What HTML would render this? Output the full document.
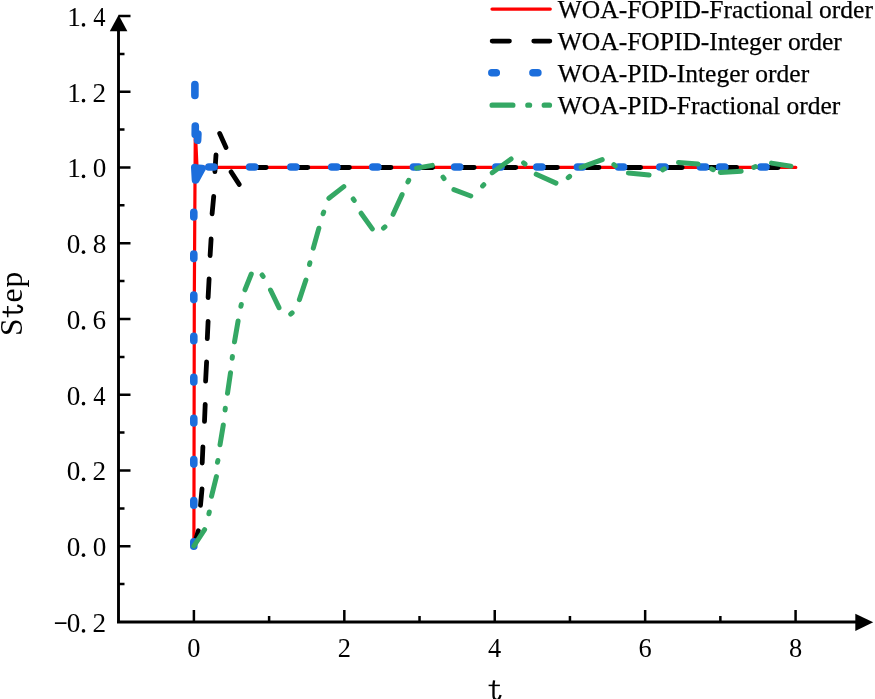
<!DOCTYPE html>
<html><head><meta charset="utf-8"><style>
html,body{margin:0;padding:0;background:#fff;overflow:hidden}
svg{display:block;will-change:transform}
text{font-family:"Liberation Serif",serif}
</style></head><body>
<svg width="875" height="699" viewBox="0 0 875 699">
<rect width="875" height="699" fill="#fff"/>
<g fill="none" stroke-linecap="round" stroke-linejoin="round">
<path d="M193.9 546.25L194.3 300L195.3 130L197 167.4L795.8 167.4" stroke="#ff0000" stroke-width="3.2"/>
<path d="M193.9 546.0L198.3 530.8M202.0 489.0L200.5 505.3M202.9 446.8L202.2 463.0M205.2 404.4L204.5 421.4M206.6 361.9L205.6 381.1M208.1 321.4L207.3 338.7M209.1 278.9L208.1 297.5M211.1 239.0L210.1 255.5M213.7 196.5L212.1 213.8M216.0 154.8L214.9 171.5M219.7 133.5L226.0 147.5M231.1 171.9L239.2 184.4M248.9 167.5L266.2 167.5M290.5 167.5L307.8 167.5M332.1 167.5L349.4 167.5M373.7 167.5L391.0 167.5M415.3 167.5L432.6 167.5M456.9 167.5L474.2 167.5M498.5 167.5L515.8 167.5M540.1 167.5L557.4 167.5M581.7 167.5L599.0 167.5M623.3 167.5L640.6 167.5M664.9 167.5L682.2 167.5M700.5 167.5L736.6 167.5M761.5 167.5L778.1 167.5" stroke="#000" stroke-width="4.8"/>
<path d="M193.8 546.3L193.8 541.7M193.8 505.2L193.8 500.6M193.8 464.1L193.8 459.5M193.8 423.0L193.8 418.4M193.8 381.9L193.8 377.3M193.8 340.8L193.8 336.2M193.8 299.6L193.8 295.0M193.8 258.6L193.8 254.0M193.8 216.9L193.8 212.3M194.9 95.5L194.9 84.5M195.3 126.0L195.2 134.5M197.9 134.0L197.6 140.3M194.8 167.5L195.5 180.0M195.8 179.8L201.5 169.5M195.0 168.0L202.0 168.5M208.8 167.0L214.0 167.0M249.6 167.0L254.8 167.0M290.8 167.0L296.0 167.0M331.7 167.0L336.9 167.0M372.7 167.0L377.9 167.0M413.4 167.0L418.6 167.0M454.6 167.0L459.8 167.0M495.8 167.0L501.0 167.0M536.8 167.0L542.0 167.0M577.4 167.0L582.6 167.0M618.4 167.0L623.6 167.0M659.8 167.0L665.0 167.0M700.4 167.0L705.6 167.0M719.6 167.0L724.8 167.0M760.8 167.0L766.0 167.0" stroke="#1c6edc" stroke-width="7.6"/>
<path d="M193.9 546.0L204.6 529.6M208.9 513.8L209.3 512.0M211.5 496.3L216.4 476.6M217.5 462.3L217.9 460.5M220.0 444.8L223.3 425.0M225.1 410.0L225.3 408.2M227.5 393.3L230.5 372.8M232.2 358.3L232.4 356.5M234.5 341.9L238.1 321.0M240.9 306.3L241.3 304.5M245.0 289.8L251.3 274.0M262.1 275.0L263.1 276.4M270.5 290.0L279.0 307.7M290.7 314.1L292.1 312.9M299.4 299.6L305.9 280.0M309.5 264.5L309.9 262.7M313.3 248.2L318.9 228.2M323.1 213.8L323.7 212.0M328.9 198.3L343.8 186.6M353.2 199.0L354.2 200.4M361.1 213.2L372.3 228.9M383.5 228.1L384.9 226.9M393.1 214.3L402.1 194.6M407.9 181.9L408.7 180.3M416.5 168.1L432.3 165.4M443.0 177.1L444.0 178.5M453.9 189.7L470.8 196.0M482.6 185.9L483.8 184.7M492.2 172.7L511.1 158.9M523.6 162.8L525.0 164.0M536.2 174.2L556.0 183.1M568.2 177.7L569.6 176.5M581.1 167.4L602.2 159.6M613.9 164.6L615.3 165.8M628.4 173.0L649.1 175.0M662.6 169.8L664.2 168.8M678.5 162.4L698.0 164.0M711.7 168.9L713.3 169.7M720.3 172.4L741.2 171.2M753.8 167.3L755.4 166.7M771.5 163.1L790.9 166.3" stroke="#34a864" stroke-width="5"/>
</g>
<g fill="none" stroke="#000">
<path d="M118.5 622.4V29" stroke-width="2.9"/>
<path d="M117 622H858" stroke-width="2.9"/>
<path d="M118.5 584.12H124.5M118.5 546.25H130.5M118.5 508.38H124.5M118.5 470.50H130.5M118.5 432.62H124.5M118.5 394.75H130.5M118.5 356.88H124.5M118.5 319.00H130.5M118.5 281.12H124.5M118.5 243.25H130.5M118.5 205.37H124.5M118.5 167.50H130.5M118.5 129.62H124.5M118.5 91.75H130.5M118.5 53.88H124.5M118.5 16.00H130.5" stroke-width="2.5"/>
<path d="M193.90 622H193.90V610M269.11 622H269.11V616M344.32 622H344.32V610M419.53 622H419.53V616M494.74 622H494.74V610M569.95 622H569.95V616M645.16 622H645.16V610M720.37 622H720.37V616M795.58 622H795.58V610" stroke-width="2.5"/>
</g>
<path d="M118.6 14.9L127.4 31.2L109.8 31.2Z" fill="#000"/>
<path d="M873.2 622.3L855.3 613.7L855.3 630.9Z" fill="#000"/>
<g font-size="26.4" fill="#000">
<text transform="translate(66.77 631.90) scale(1.03 1)">0</text><text transform="translate(92.46 631.90) scale(1.03 1)">2</text><circle cx="83.5" cy="630.90" r="1.8"/><rect x="54.9" y="622.30" width="11.6" height="1.7"/><text transform="translate(66.77 556.15) scale(1.03 1)">0</text><text transform="translate(92.67 556.15) scale(1.03 1)">0</text><circle cx="83.5" cy="555.15" r="1.8"/><text transform="translate(66.77 480.40) scale(1.03 1)">0</text><text transform="translate(92.46 480.40) scale(1.03 1)">2</text><circle cx="83.5" cy="479.40" r="1.8"/><text transform="translate(66.77 404.65) scale(1.03 1)">0</text><text transform="translate(93.23 404.65) scale(0.93 1)">4</text><circle cx="83.5" cy="403.65" r="1.8"/><text transform="translate(66.77 328.90) scale(1.03 1)">0</text><text transform="translate(92.57 328.90) scale(1.03 1)">6</text><circle cx="83.5" cy="327.90" r="1.8"/><text transform="translate(66.77 253.15) scale(1.03 1)">0</text><text transform="translate(92.67 253.15) scale(1.03 1)">8</text><circle cx="83.5" cy="252.15" r="1.8"/><text transform="translate(67.23 177.40) scale(1.03 1)">1</text><text transform="translate(92.67 177.40) scale(1.03 1)">0</text><circle cx="83.5" cy="176.40" r="1.8"/><text transform="translate(67.23 101.65) scale(1.03 1)">1</text><text transform="translate(92.46 101.65) scale(1.03 1)">2</text><circle cx="83.5" cy="100.65" r="1.8"/><text transform="translate(67.23 25.90) scale(1.03 1)">1</text><text transform="translate(93.23 25.90) scale(0.93 1)">4</text><circle cx="83.5" cy="24.90" r="1.8"/>
<text x="193.9" y="656.6" text-anchor="middle">0</text><text x="344.3" y="656.6" text-anchor="middle">2</text><text x="494.7" y="656.6" text-anchor="middle">4</text><text x="645.2" y="656.6" text-anchor="middle">6</text><text x="795.6" y="656.6" text-anchor="middle">8</text>
</g>
<g font-size="31.5" transform="translate(21.5 335.98) rotate(-90)">
<text x="0" y="0">S</text>
<text x="33.47" y="0">e</text>
<text x="48.5" y="0">p</text>
</g>
<g fill="none" stroke="#000">
<g transform="translate(493.6 680)"><path d="M0.5 0.3C0.2 2.5-0.1 3.5-0.1 6L-0.1 15.5C-0.1 19.5 2.5 20.3 4.5 19.5C5.8 18.9 6.5 16.7 7 15" stroke-width="2.3"/><path d="M-5 5.4H6.3" stroke-width="1.5"/></g>
<g transform="translate(2.3 312.3) rotate(-90)"><path d="M0.5 0.3C0.2 2.5-0.1 3.5-0.1 6L-0.1 15.5C-0.1 19.5 2.5 20.3 4.5 19.5C5.8 18.9 6.5 16.7 7 15" stroke-width="2.3"/><path d="M-5 5.4H6.3" stroke-width="1.5"/></g>
</g>
<g fill="none" stroke-linecap="round">
<path d="M492 9.1H550.3" stroke="#ff0000" stroke-width="3.2"/>
<path d="M492.2 41.1H509.4M533.8 41.1H549.8" stroke="#000" stroke-width="4.9"/>
<path d="M491.8 72.8H496.3M532.9 72.8H537.9" stroke="#1c6edc" stroke-width="7.5"/>
<path d="M492.1 105.2H512.9M527.8 105.2H529.6M544.2 105.2H549.5" stroke="#34a864" stroke-width="5.2"/>
</g>
<g font-size="25.5" fill="#000" stroke="#000" stroke-width="0.25">
<text x="557.8" y="18.1">WOA-FOPID-Fractional order</text>
<text x="557.8" y="49.9">WOA-FOPID-Integer order</text>
<text x="557.8" y="82.1">WOA-PID-Integer order</text>
<text x="557.8" y="114.1">WOA-PID-Fractional order</text>
</g>
</svg>
</body></html>
